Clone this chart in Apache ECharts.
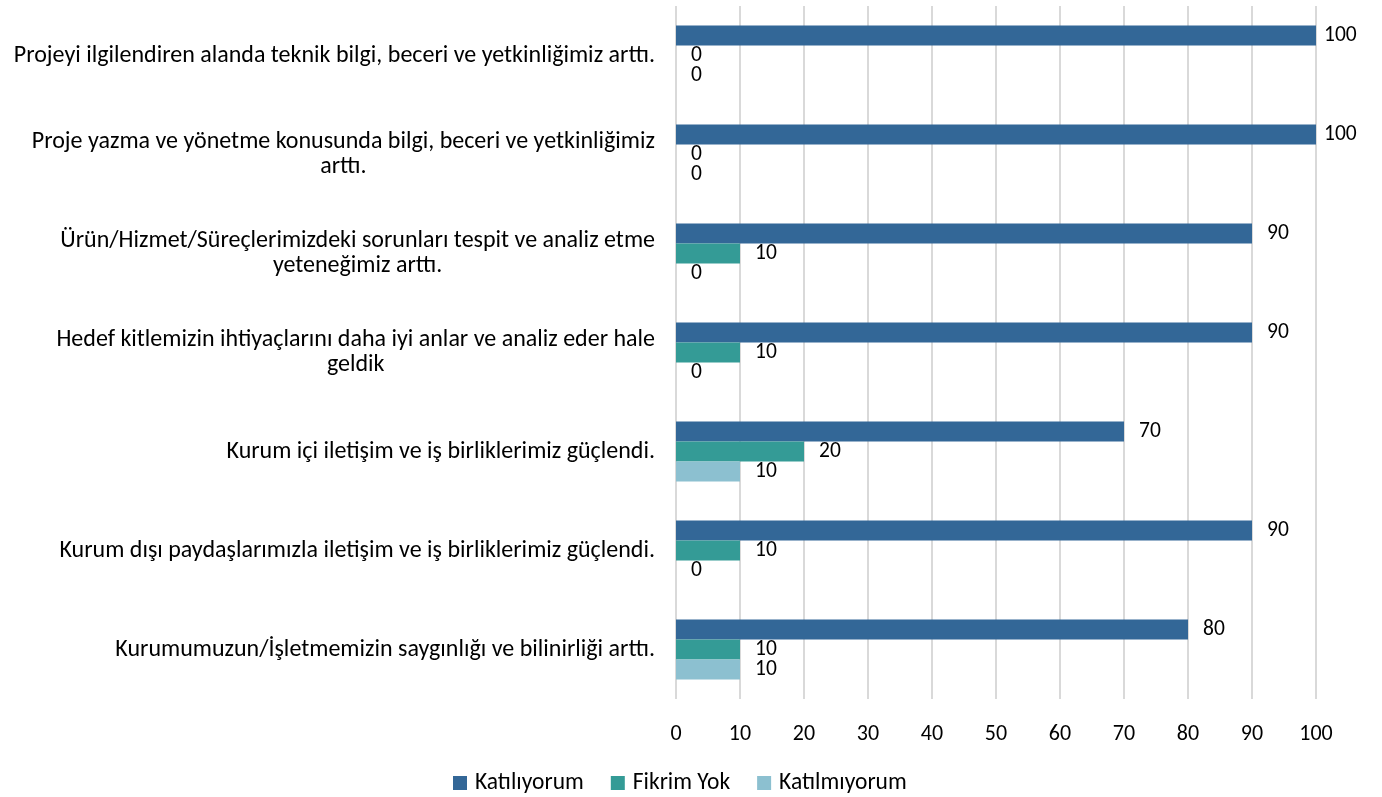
<!DOCTYPE html>
<html>
<head>
<meta charset="utf-8">
<script src="https://cdn.jsdelivr.net/npm/echarts@6/dist/echarts.min.js"></script>
<style>
  html, body { margin: 0; padding: 0; background: #fff; }
  #chart { width: 1382px; height: 797px; }
</style>
</head>
<body>
<div id="chart"></div>
<script>
// kategoriler (yukarıdan aşağıya)
const categories = [
  'Projeyi ilgilendiren alanda teknik bilgi, beceri ve yetkinliğimiz arttı.',
  'Proje yazma ve yönetme konusunda bilgi, beceri ve yetkinliğimiz\narttı.',
  'Ürün/Hizmet/Süreçlerimizdeki sorunları tespit ve analiz etme\nyeteneğimiz arttı.',
  'Hedef kitlemizin ihtiyaçlarını daha iyi anlar ve analiz eder hale\ngeldik',
  'Kurum içi iletişim ve iş birliklerimiz güçlendi.',
  'Kurum dışı paydaşlarımızla iletişim ve iş birliklerimiz güçlendi.',
  'Kurumumuzun/İşletmemizin saygınlığı ve bilinirliği arttı.'
]
const seriesNames = ['Katılıyorum', 'Fikrim Yok', 'Katılmıyorum']
const katiliyorum = [100, 100, 90, 90, 70, 90, 80]
const fikrimYok = [0, 0, 10, 10, 20, 10, 10]
const katilmiyorum = [0, 0, 0, 0, 10, 0, 10]
const xTicks = [0, 10, 20, 30, 40, 50, 60, 70, 80, 90, 100]

const colors = ['#336797', '#349b96', '#8cc0d0']
const font = 'Carlito, Lato, sans-serif'

const chart = echarts.init(document.getElementById('chart'))

function makeSeries(name, values, color) {
  return {
    name: name,
    type: 'bar',
    barWidth: 20,
    barGap: '0%',
    itemStyle: { color: color },
    label: {
      show: true,
      position: 'right',
      distance: 15,
      color: '#000',
      fontFamily: font,
      fontSize: 21.5
    },
    data: values.map(v => v === 100 ? { value: v, label: { distance: 8 } } : v)
  }
}

chart.setOption({
  backgroundColor: '#fff',
  animation: false,
  color: colors,
  grid: { left: 676, right: 66, top: 6, bottom: 98 },
  legend: {
    data: seriesNames,
    top: 771,
    left: 453,
    padding: 0,
    itemWidth: 14,
    itemHeight: 14,
    itemGap: 27,
    icon: 'rect',
    textStyle: { color: '#000', fontFamily: font, fontSize: 23.5, padding: [0, 0, 0, 3] }
  },
  xAxis: {
    type: 'value',
    min: 0,
    max: 100,
    interval: 10,
    axisLine: { show: false },
    axisTick: { show: false },
    splitLine: { lineStyle: { color: '#d9d9d9', width: 2 } },
    axisLabel: {
      color: '#000',
      fontFamily: font,
      fontSize: 22,
      margin: 24,
      formatter: v => xTicks.includes(v) ? String(v) : ''
    }
  },
  yAxis: {
    type: 'category',
    inverse: true,
    data: categories,
    axisLine: { show: false },
    axisTick: { show: false },
    axisLabel: {
      margin: 21,
      lineHeight: 25,
      formatter: v => v.split('\n').map(l => '{c|' + l + '}').join('\n'),
      rich: {
        c: { align: 'center', color: '#000', fontFamily: font, fontSize: 24, lineHeight: 25 }
      }
    }
  },
  series: [
    makeSeries(seriesNames[0], katiliyorum, colors[0]),
    makeSeries(seriesNames[1], fikrimYok, colors[1]),
    makeSeries(seriesNames[2], katilmiyorum, colors[2])
  ]
})
</script>
</body>
</html>
